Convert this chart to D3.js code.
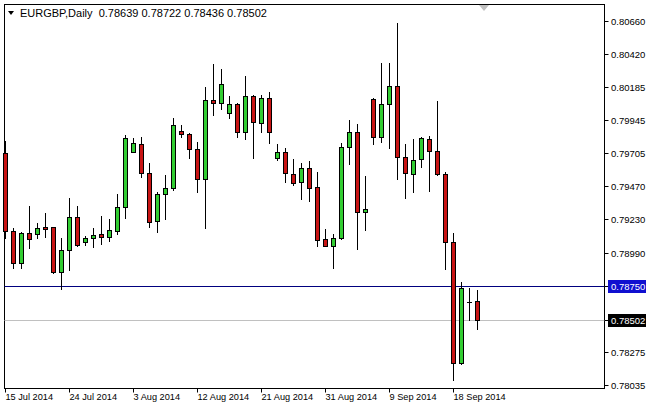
<!DOCTYPE html>
<html><head><meta charset="utf-8">
<script src="https://cdn.jsdelivr.net/npm/d3@7/dist/d3.min.js"></script>
<style>
html,body{margin:0;padding:0;background:#fff;}
svg{display:block;}
text{font-family:"Liberation Sans",Arial,sans-serif;white-space:pre;}
</style></head>
<body>
<svg id="c" width="649" height="408"></svg>
<script>
const dates = ["2014-07-15","2014-07-16","2014-07-17","2014-07-18","2014-07-20","2014-07-21","2014-07-22","2014-07-23","2014-07-24","2014-07-25",
"2014-07-27","2014-07-28","2014-07-29","2014-07-30","2014-07-31","2014-08-01","2014-08-03","2014-08-04","2014-08-05","2014-08-06",
"2014-08-07","2014-08-08","2014-08-10","2014-08-11","2014-08-12","2014-08-13","2014-08-14","2014-08-15","2014-08-17","2014-08-18",
"2014-08-19","2014-08-20","2014-08-21","2014-08-22","2014-08-24","2014-08-25","2014-08-26","2014-08-27","2014-08-28","2014-08-29",
"2014-08-31","2014-09-01","2014-09-02","2014-09-03","2014-09-04","2014-09-05","2014-09-07","2014-09-08","2014-09-09","2014-09-10",
"2014-09-11","2014-09-12","2014-09-14","2014-09-15","2014-09-16","2014-09-17","2014-09-18","2014-09-19","2014-09-21","2014-09-22"];
const open  = [0.79706,0.79146,0.78913,0.79129,0.79122,0.79172,0.79172,0.78852,0.79009,0.79244,
0.79068,0.79093,0.79124,0.79100,0.79148,0.79317,0.79718,0.79773,0.79562,0.79218,
0.79412,0.79454,0.79867,0.79843,0.79735,0.79517,0.80090,0.80067,0.79994,0.80062,
0.79862,0.80119,0.79922,0.80103,0.79674,0.79713,0.79557,0.79497,0.79598,0.79461,
0.79086,0.79040,0.79093,0.79751,0.79856,0.79281,0.80095,0.79821,0.80059,0.80191,
0.79679,0.79555,0.79663,0.79807,0.79726,0.79557,0.79068,0.78192,0.78631,0.78639];
const high  = [0.79797,0.79165,0.79136,0.79326,0.79201,0.79278,0.79177,0.79093,0.79386,0.79326,
0.79110,0.79165,0.79254,0.79230,0.79412,0.79838,0.79814,0.79821,0.79634,0.79429,
0.79550,0.79963,0.79910,0.79855,0.79785,0.80182,0.80350,0.80314,0.80119,0.80067,
0.80266,0.80126,0.80126,0.80146,0.79771,0.79742,0.79663,0.79634,0.79653,0.79569,
0.79158,0.79124,0.79777,0.79946,0.79915,0.79542,0.80103,0.80355,0.80355,0.80643,
0.79771,0.79808,0.79820,0.79829,0.80085,0.79573,0.79133,0.78776,0.78732,0.78722];
const low   = [0.79093,0.78881,0.78877,0.79025,0.79093,0.79105,0.78841,0.78725,0.78864,0.79038,
0.79045,0.79032,0.79052,0.79076,0.79124,0.79237,0.79712,0.79533,0.79172,0.79141,
0.79230,0.79441,0.79826,0.79674,0.79430,0.79165,0.79982,0.80025,0.79958,0.79821,
0.79807,0.79670,0.79862,0.79778,0.79658,0.79501,0.79477,0.79374,0.79364,0.79040,
0.79034,0.78877,0.79086,0.79627,0.79014,0.79153,0.79771,0.79785,0.79742,0.79518,
0.79381,0.79429,0.79609,0.79436,0.79553,0.78872,0.78071,0.78187,0.78504,0.78436];
const close = [0.79146,0.78913,0.79129,0.79086,0.79165,0.79162,0.78852,0.79009,0.79244,0.79045,
0.79097,0.79117,0.79100,0.79153,0.79317,0.79814,0.79778,0.79562,0.79208,0.79410,
0.79454,0.79910,0.79843,0.79735,0.79517,0.80090,0.80067,0.80206,0.80062,0.79862,
0.80119,0.79930,0.80103,0.79862,0.79713,0.79562,0.79494,0.79598,0.79454,0.79081,
0.79040,0.79093,0.79754,0.79856,0.79281,0.79301,0.79821,0.80059,0.80191,0.79677,
0.79562,0.79655,0.79814,0.79725,0.79555,0.79068,0.78196,0.78732,0.78631,0.78502];
const priceTicks = ["0.80660","0.80420","0.80185","0.79945","0.79705","0.79470","0.79230","0.78990","0.78275","0.78035"];
const dateTicks = ["2014-07-15","2014-07-24","2014-08-03","2014-08-12","2014-08-21","2014-08-31","2014-09-09","2014-09-18"];
const hLine = 0.78750;
const bidLine = 0.78502;
const title = "EURGBP,Daily";
const ohlcText = ["0.78639","0.78722","0.78436","0.78502"];

const svg = d3.select("#c");
const L = 4.5, R = 604.5, T = 4.5, B = 388.5;
const y = d3.scaleLinear().domain([0.78035, 0.80660]).range([385, 21]);
const x = d3.scalePoint().domain(dates).range([5, 477]);
const py = v => Math.round(y(v));
const px = d => Math.round(x(d));

svg.append("rect").attr("x",L).attr("y",T).attr("width",R-L).attr("height",B-T)
  .attr("fill","#fff").attr("stroke","#000").attr("stroke-width",1);

svg.append("path").attr("d","M479,5 L489,5 L484,11 Z").attr("fill","#c0c0c0");

svg.append("line").attr("x1",L).attr("x2",R).attr("y1",py(bidLine)+0.5).attr("y2",py(bidLine)+0.5)
  .attr("stroke","#c0c0c0");
svg.append("line").attr("x1",L).attr("x2",R).attr("y1",py(hLine)+0.5).attr("y2",py(hLine)+0.5)
  .attr("stroke","#00007f");

const data = dates.map((d,i)=>({d,o:open[i],h:high[i],l:low[i],c:close[i]}));
const g = svg.append("g");
data.forEach(k=>{
  const cx = px(k.d)+0.5;
  g.append("line").attr("x1",cx).attr("x2",cx).attr("y1",py(k.h)).attr("y2",py(k.l)+1)
    .attr("stroke","#000").attr("stroke-width",1);
  const top = py(Math.max(k.o,k.c)), bot = py(Math.min(k.o,k.c));
  if (bot-top < 1) {
    g.append("line").attr("x1",cx-2.5).attr("x2",cx+2.5).attr("y1",top+0.5).attr("y2",top+0.5)
      .attr("stroke","#000");
  } else {
    g.append("rect").attr("x",cx-2).attr("y",top+0.5).attr("width",4).attr("height",bot-top)
      .attr("fill", k.c>=k.o ? "#32cd32" : "#c81414").attr("stroke","#000").attr("stroke-width",1);
  }
});

const pa = svg.append("g");
const pfs = 9.5;
priceTicks.forEach(t=>{
  const yy = py(+t)+0.5;
  pa.append("line").attr("x1",R).attr("x2",R+4).attr("y1",yy).attr("y2",yy).attr("stroke","#000");
  pa.append("text").attr("x",611).attr("y",yy+3.5).attr("font-size",pfs).attr("fill","#000").text(t);
});
function tag(v, bg){
  const yy = py(v)+0.5;
  pa.append("line").attr("x1",R).attr("x2",R+4).attr("y1",yy).attr("y2",yy).attr("stroke","#000");
  pa.append("rect").attr("x",608).attr("y",yy-6.5).attr("width",38).attr("height",13).attr("fill",bg);
  pa.append("text").attr("x",611).attr("y",yy+3.5).attr("font-size",pfs).attr("fill","#fff").text(d3.format(".5f")(v));
}
tag(hLine,"#1010d0");
tag(bidLine,"#000");

const ta = svg.append("g");
const fmt = d3.timeFormat("%-d %b %Y"), parse = d3.timeParse("%Y-%m-%d");
dateTicks.forEach(d=>{
  const xx = px(d)+0.5;
  ta.append("line").attr("x1",xx).attr("x2",xx).attr("y1",B).attr("y2",B+4).attr("stroke","#000");
  ta.append("text").attr("x",xx).attr("y",400).attr("font-size",9.2).attr("fill","#000").text(fmt(parse(d)));
});

svg.append("path").attr("d","M8,11 L14,11 L11,15 Z").attr("fill","#000");
svg.append("text").attr("x",20).attr("y",17).attr("font-size",11).attr("fill","#000")
  .attr("xml:space","preserve")
  .text(title + "  " + ohlcText.join(" "));
</script>
</body></html>
